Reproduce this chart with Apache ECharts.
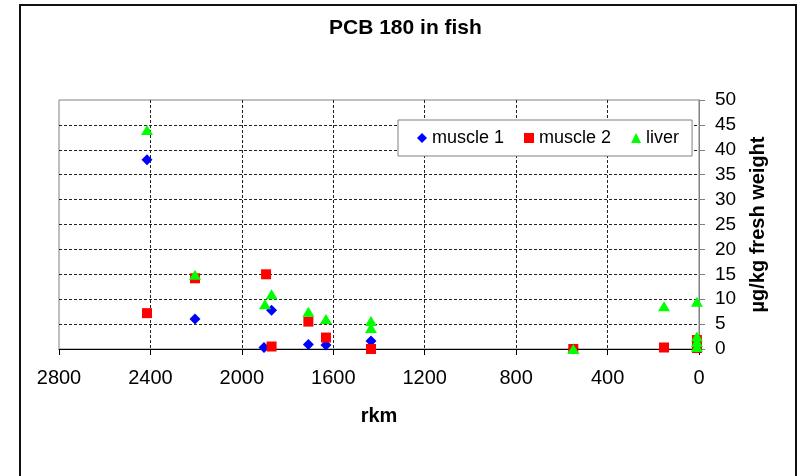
<!DOCTYPE html>
<html>
<head>
<meta charset="utf-8">
<script src="https://cdn.jsdelivr.net/npm/echarts@6/dist/echarts.min.js"></script>
<style>html,body{margin:0;padding:0;background:#fff;}#c{width:798px;height:476px;}</style>
</head>
<body>
<div id="c"></div>
<script>
const xTicks = [2800, 2400, 2000, 1600, 1200, 800, 400, 0];
const yTicks = [0, 5, 10, 15, 20, 25, 30, 35, 40, 45, 50];

const muscle1Rkm    = [2415, 2205, 1903, 1870, 1709, 1632, 1435, 550, 9];
const muscle1Values = [38.0, 6.0, 0.3, 7.8, 0.9, 0.8, 1.6, 0.0, 0.5];

const muscle2Rkm    = [2415, 2205, 1894, 1870, 1709, 1632, 1435, 550, 153, 9, 9];
const muscle2Values = [7.2, 14.2, 15.0, 0.5, 5.5, 2.3, 0.0, 0.0, 0.3, 1.8, 0.2];

const liverRkm      = [2415, 2205, 1899, 1870, 1709, 1632, 1435, 1435, 550, 153, 9, 9, 9, 9];
const liverValues   = [44.0, 14.9, 9.0, 11.0, 7.5, 6.0, 5.6, 4.2, 0.0, 8.6, 9.5, 2.5, 1.4, 0.4];

const FONT = "'Liberation Sans', Arial, sans-serif";
const pairs = (xs, ys) => xs.map((x, i) => [x, ys[i]]);

const chart = echarts.init(document.getElementById('c'), null, {renderer: 'canvas'});
chart.setOption({
  animation: false,
  backgroundColor: '#fff',
  title: {
    text: 'PCB 180 in fish',
    left: 329, top: 18, padding: 0,
    textStyle: {fontFamily: FONT, fontSize: 21, fontWeight: 'bold', color: '#000'}
  },
  graphic: [{
    type: 'rect', silent: true, z: -1,
    shape: {x: 20, y: 5, width: 776, height: 490},
    style: {fill: 'none', stroke: '#111', lineWidth: 2}
  }],
  legend: {
    left: 398, top: 120,
    orient: 'horizontal',
    padding: [9, 13, 9, 19],
    itemGap: 20,
    itemWidth: 10, itemHeight: 10,
    backgroundColor: '#fff',
    borderColor: '#808080', borderWidth: 1, borderRadius: 0,
    textStyle: {fontFamily: FONT, fontSize: 18, color: '#000'},
    data: [
      {name: 'muscle 1', icon: 'diamond'},
      {name: 'muscle 2', icon: 'rect'},
      {name: 'liver', icon: 'triangle'}
    ]
  },
  grid: {
    left: 59, right: 99, top: 100, bottom: 127,
    show: true, borderColor: '#808080', borderWidth: 1, backgroundColor: 'transparent',
    containLabel: false
  },
  xAxis: {
    type: 'value', inverse: true,
    min: 0, max: 2800, interval: 400,
    name: 'rkm', nameLocation: 'middle', nameGap: 57,
    nameTextStyle: {fontFamily: FONT, fontSize: 20, fontWeight: 'bold', color: '#000'},
    axisLine: {show: true, onZero: false, lineStyle: {color: '#000', width: 1}},
    axisTick: {show: true, inside: false, length: 6, lineStyle: {color: '#000'}},
    axisLabel: {margin: 19, fontFamily: FONT, fontSize: 20, color: '#000',
      formatter: v => xTicks.includes(v) ? String(v) : ''},
    splitLine: {show: true, showMinLine: false, showMaxLine: false,
      lineStyle: {color: '#222', type: [3, 2], width: 1}}
  },
  yAxis: {
    type: 'value', position: 'right',
    min: 0, max: 50, interval: 5,
    name: 'µg/kg fresh weight', nameLocation: 'middle', nameGap: 49, nameRotate: 90,
    nameTextStyle: {fontFamily: FONT, fontSize: 20, fontWeight: 'bold', color: '#000'},
    axisLine: {show: true, onZero: false, lineStyle: {color: '#808080', width: 1}},
    axisTick: {show: true, inside: false, length: 6, lineStyle: {color: '#808080'}},
    axisLabel: {margin: 16, fontFamily: FONT, fontSize: 19, color: '#000', align: 'left',
      formatter: v => yTicks.includes(v) ? String(v) : ''},
    splitLine: {show: true, showMinLine: false, showMaxLine: false,
      lineStyle: {color: '#222', type: [3, 2], width: 1}}
  },
  series: [
    {name: 'muscle 1', type: 'scatter', symbol: 'diamond', symbolSize: 11,
      itemStyle: {color: '#0000FF', opacity: 1}, data: pairs(muscle1Rkm, muscle1Values), z: 3},
    {name: 'muscle 2', type: 'scatter', symbol: 'rect', symbolSize: 10,
      itemStyle: {color: '#FF0000', opacity: 1}, data: pairs(muscle2Rkm, muscle2Values), z: 4},
    {name: 'liver', type: 'scatter', symbol: 'triangle', symbolSize: [12, 10],
      itemStyle: {color: '#00FF00', opacity: 1}, data: pairs(liverRkm, liverValues), z: 5}
  ]
});
</script>
</body>
</html>
